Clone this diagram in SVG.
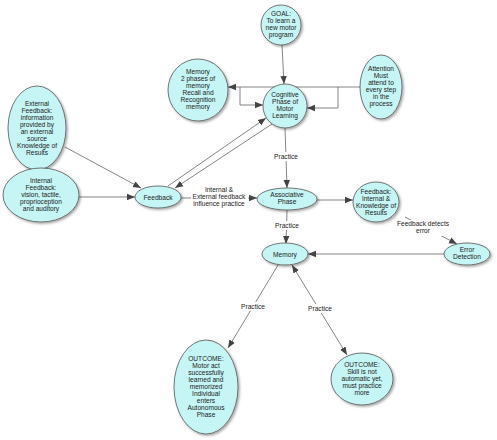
<svg xmlns="http://www.w3.org/2000/svg" width="497" height="440" viewBox="0 0 497 440">
<defs>
<filter id="sh" x="-20%" y="-20%" width="150%" height="150%"><feDropShadow dx="1.5" dy="1.5" stdDeviation="1" flood-color="#000" flood-opacity="0.35"/></filter>
<marker id="arr" viewBox="0 0 10 10" refX="10" refY="5" markerWidth="8" markerHeight="8" markerUnits="userSpaceOnUse" orient="auto-start-reverse"><path d="M0,1 L10,5 L0,9 z" fill="#444"/></marker>
</defs>
<style>
.n ellipse{fill:#c6f5f5;stroke:#555;stroke-width:0.8;filter:url(#sh)}
text{font-family:"Liberation Sans",Arial,sans-serif;font-size:6.6px;fill:#222;text-anchor:middle}
.c line,.c polyline{stroke:#666;stroke-width:0.8;fill:none}
.a{marker-end:url(#arr)}
.lb rect{fill:#fff}
</style>
<rect width="497" height="440" fill="#fff"/>
<g class="c">
<line class="a" x1="282" y1="45" x2="284" y2="84"/>
<line class="a" x1="360" y1="87" x2="228" y2="87"/>
<polyline class="a" points="240,87 240,105 263,105"/>
<polyline class="a" points="338,87 338,108 307,108"/>
<line class="a" x1="168" y1="186" x2="266" y2="118"/>
<line class="a" x1="272" y1="124" x2="175" y2="188"/>
<line class="a" x1="65" y1="147" x2="141" y2="188"/>
<line class="a" x1="79" y1="197" x2="135" y2="197"/>
<line class="a" x1="181" y1="198" x2="257" y2="198"/>
<line class="a" x1="285" y1="128" x2="287" y2="188"/>
<line class="a" x1="317" y1="200" x2="353" y2="200"/>
<line class="a" x1="287" y1="210" x2="286" y2="244"/>
<line class="a" x1="405" y1="217" x2="457" y2="244"/>
<line class="a" x1="444" y1="254" x2="308" y2="254"/>
<line class="a" x1="278" y1="265" x2="228" y2="348"/>
<line class="a" x1="292" y1="265" x2="347" y2="355" style="marker-start:url(#arr)"/>
<g class="lb">
<rect x="272" y="152" width="28" height="9"/><text x="286" y="159">Practice</text>
<rect x="191" y="186" width="57" height="23"/><text x="219" y="192">Internal &amp;</text><text x="219" y="199">External feedback</text><text x="219" y="206">influence practice</text>
<rect x="273" y="221" width="28" height="9"/><text x="287" y="228">Practice</text>
<rect x="400" y="220" width="47" height="16"/><text x="423" y="226">Feedback detects</text><text x="423" y="233">error</text>
<rect x="239" y="302" width="28" height="9"/><text x="253" y="309">Practice</text>
<rect x="306" y="304" width="28" height="9"/><text x="320" y="311">Practice</text>
</g>
</g>
<g class="n" id="goal"><ellipse cx="281" cy="25" rx="20" ry="20"/><text x="281" y="16">GOAL:</text><text x="281" y="23">To learn a</text><text x="281" y="30">new motor</text><text x="281" y="37">program</text></g>
<g class="n" id="memory1"><ellipse cx="198" cy="90" rx="30" ry="31"/><text x="198" y="74">Memory</text><text x="198" y="81">2 phases of</text><text x="198" y="88">memory</text><text x="198" y="95">Recall and</text><text x="198" y="102">Recognition</text><text x="198" y="109">memory</text></g>
<g class="n" id="cognitive"><ellipse cx="285" cy="106" rx="22" ry="22"/><text x="285" y="97">Cognitive</text><text x="285" y="104">Phase of</text><text x="285" y="111">Motor</text><text x="285" y="118">Learning</text></g>
<g class="n" id="attention"><ellipse cx="381" cy="87" rx="21" ry="32"/><text x="381" y="71">Attention</text><text x="381" y="78">Must</text><text x="381" y="85">attend to</text><text x="381" y="92">every step</text><text x="381" y="99">in the</text><text x="381" y="106">process</text></g>
<g class="n" id="external"><ellipse cx="37" cy="128" rx="29" ry="42"/><text x="37" y="106">External</text><text x="37" y="113">Feedback:</text><text x="37" y="120">information</text><text x="37" y="127">provided by</text><text x="37" y="134">an external</text><text x="37" y="141">source</text><text x="37" y="148">Knowledge of</text><text x="37" y="155">Results</text></g>
<g class="n" id="internal"><ellipse cx="41" cy="195" rx="38" ry="27"/><text x="41" y="183">Internal</text><text x="41" y="190">Feedback:</text><text x="41" y="197">vision, tactile,</text><text x="41" y="204">proprioception</text><text x="41" y="211">and auditory</text></g>
<g class="n" id="feedback"><ellipse cx="158" cy="197" rx="23" ry="11"/><text x="158" y="199.5">Feedback</text></g>
<g class="n" id="associative"><ellipse cx="287" cy="199" rx="30" ry="11"/><text x="287" y="197">Associative</text><text x="287" y="204">Phase</text></g>
<g class="n" id="feedback2"><ellipse cx="376" cy="202" rx="23" ry="20"/><text x="376" y="194">Feedback:</text><text x="376" y="201">Internal &amp;</text><text x="376" y="208">Knowledge of</text><text x="376" y="215">Results</text></g>
<g class="n" id="error"><ellipse cx="467" cy="254" rx="23" ry="11"/><text x="467" y="252">Error</text><text x="467" y="259">Detection</text></g>
<g class="n" id="memory2"><ellipse cx="285" cy="254" rx="23" ry="11"/><text x="285" y="256.5">Memory</text></g>
<g class="n" id="outcome1"><ellipse cx="206" cy="387" rx="32" ry="47"/><text x="206" y="361">OUTCOME:</text><text x="206" y="368">Motor act</text><text x="206" y="375">successfully</text><text x="206" y="382">learned and</text><text x="206" y="389">memorized</text><text x="206" y="396">Individual</text><text x="206" y="403">enters</text><text x="206" y="410">Autonomous</text><text x="206" y="417">Phase</text></g>
<g class="n" id="outcome2"><ellipse cx="362" cy="379" rx="31" ry="26"/><text x="362" y="367">OUTCOME:</text><text x="362" y="374">Skill is not</text><text x="362" y="381">automatic yet,</text><text x="362" y="388">must practice</text><text x="362" y="395">more</text></g>
</svg>
